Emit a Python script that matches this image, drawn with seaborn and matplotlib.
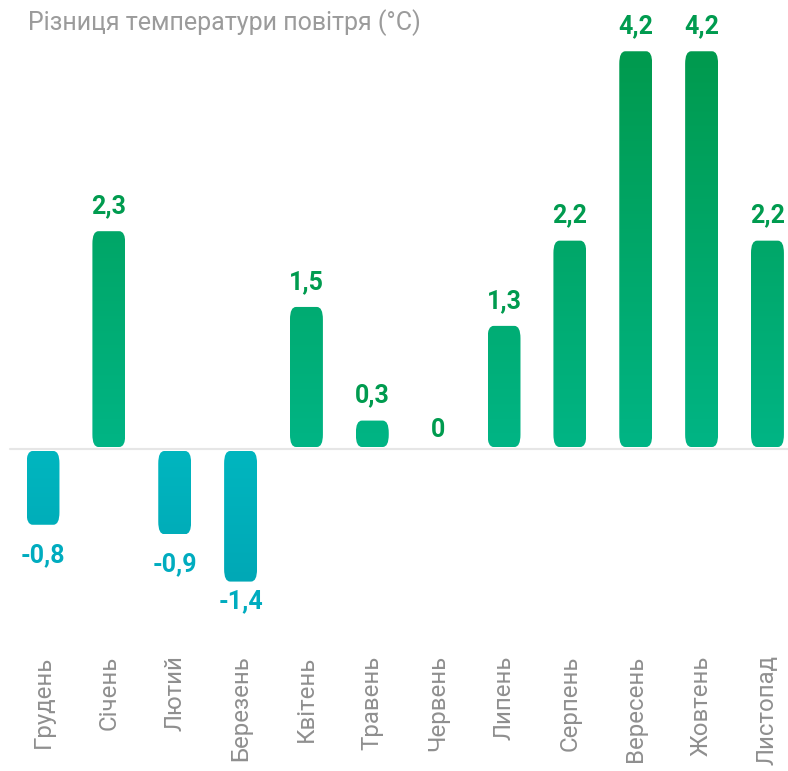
import numpy as np
import pandas as pd
import matplotlib
matplotlib.use("Agg")
import matplotlib.pyplot as plt
import seaborn as sns
from matplotlib.patches import FancyBboxPatch
from matplotlib.colors import LinearSegmentedColormap, Normalize

# ---- data ----
months = ["Грудень", "Січень", "Лютий", "Березень", "Квітень", "Травень",
          "Червень", "Липень", "Серпень", "Вересень", "Жовтень", "Листопад"]
values = [-0.8, 2.3, -0.9, -1.4, 1.5, 0.3, 0.0, 1.3, 2.2, 4.2, 4.2, 2.2]
labels = ["-0,8", "2,3", "-0,9", "-1,4", "1,5", "0,3", "0", "1,3", "2,2", "4,2", "4,2", "2,2"]
title = "Різниця температури повітря (°C)"

df = pd.DataFrame({"month": months, "value": values})

# ---- style ----
sns.set_theme(style="white")
plt.rcParams["font.family"] = ["Roboto", "DejaVu Sans"]

W, H, DPI = 788, 771, 100
fig = plt.figure(figsize=(W / DPI, H / DPI), dpi=DPI)

px_x = 65.86          # pixels per category
px_y = 94.7           # pixels per degree
zero_px = 449.0       # y pixel of zero line (from top)
ax_top_px, ax_bot_px = 0.0, 640.0
first_center_px = 43.0

ax = fig.add_axes([0, 1 - ax_bot_px / H, 1, (ax_bot_px - ax_top_px) / H])
sns.barplot(data=df, x="month", y="value", ax=ax, width=0.5, color="#00b484")

pos_cmap = LinearSegmentedColormap.from_list("pos", ["#00b585", "#009a4e"])
neg_cmap = LinearSegmentedColormap.from_list("neg", ["#00b6bf", "#00a8b6"])
pos_norm = Normalize(0, 4.2)
neg_norm = Normalize(0, 1.4)

gap = 2.0 / px_y
radius_px = 6.0
aspect = px_x / px_y

for patch, v in zip(list(ax.patches), values):
    x0 = patch.get_x()
    w = patch.get_width()
    h = patch.get_height()
    patch.remove()
    if abs(h) < 1e-9:
        continue
    if h > 0:
        y0, y1 = gap, h
        cmap, norm = pos_cmap, pos_norm
    else:
        y0, y1 = h, -gap
        cmap, norm = neg_cmap, neg_norm
    grad = np.abs(np.linspace(y0, y1, 256)).reshape(-1, 1)
    box = FancyBboxPatch((x0, y0), w, y1 - y0,
                         boxstyle=f"round,pad=0,rounding_size={radius_px / px_x}",
                         mutation_aspect=1 / aspect,
                         facecolor="none", edgecolor="none", transform=ax.transData)
    ax.add_patch(box)
    im = ax.imshow(grad, cmap=cmap, norm=norm, origin="lower", aspect="auto",
                   extent=[x0, x0 + w, y0, y1], interpolation="bilinear", zorder=2)
    im.set_clip_path(box)

ax.set_xlim(-first_center_px / px_x, (W - first_center_px) / px_x)
ax.set_ylim(-(ax_bot_px - zero_px) / px_y, (zero_px - ax_top_px) / px_y)

# zero line
ax.plot([-0.5, 20], [0, 0], color="#e6e6e6", lw=1.5, zorder=1)

# value labels
fs_val = 18
for i, (v, lab) in enumerate(zip(values, labels)):
    if v > 0:
        ax.annotate(lab, (i, v), xytext=(0, 18 * 72 / DPI), textcoords="offset points",
                    ha="center", va="baseline", fontsize=fs_val, fontweight="bold",
                    color="#009b4f")
    elif v == 0:
        ax.annotate(lab, (i, v), xytext=(0, 12 * 72 / DPI), textcoords="offset points",
                    ha="center", va="baseline", fontsize=fs_val, fontweight="bold",
                    color="#009b4f")
    else:
        off = 8 if v < -1.2 else 18
        ax.annotate(lab, (i, v), xytext=(0, -off * 72 / DPI), textcoords="offset points",
                    ha="center", va="top", fontsize=fs_val, fontweight="bold",
                    color="#00acbf")

ax.set_xlabel("")
ax.set_ylabel("")
ax.set_yticks([])
ax.tick_params(axis="x", length=0, pad=11, labelsize=17.3, labelcolor="#8f8f8f", rotation=90)
for s in ax.spines.values():
    s.set_visible(False)
ax.set_facecolor("none")

fig.text(28 / W, 1 - 23 / H, title, fontsize=18.0, color="#9b9b9b", ha="left", va="center")

fig.savefig("out.png", dpi=DPI)
